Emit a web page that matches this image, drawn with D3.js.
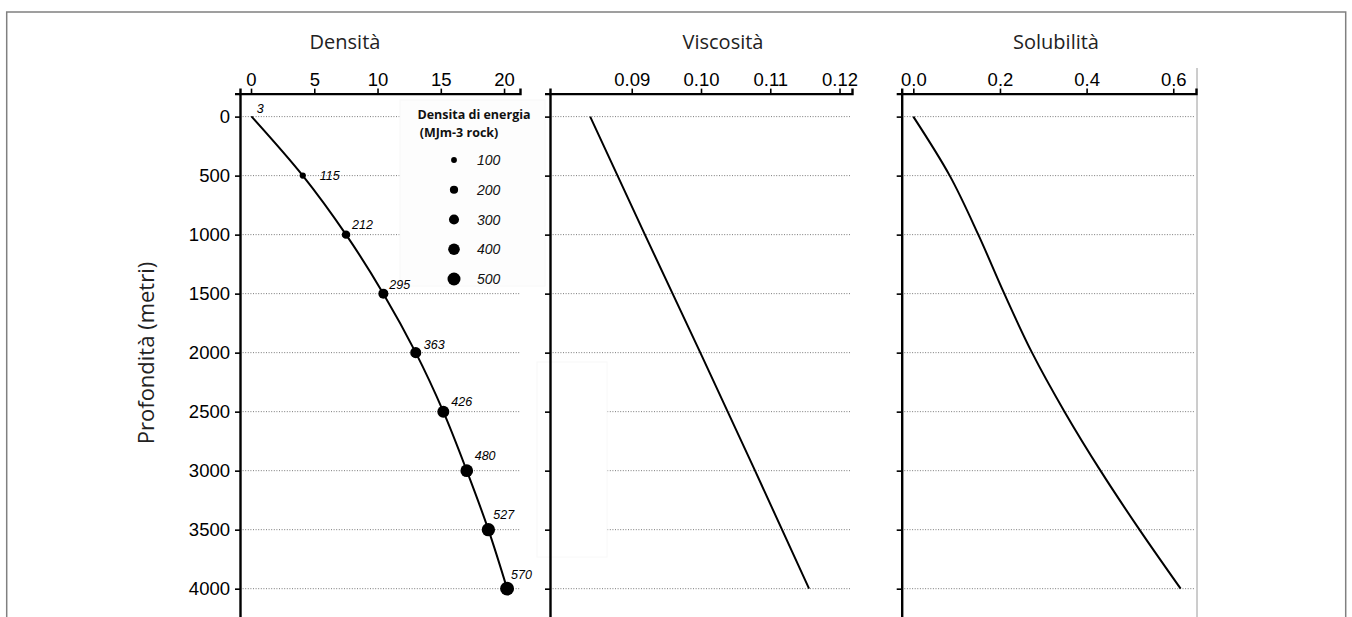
<!DOCTYPE html>
<html><head><meta charset="utf-8">
<script src="https://cdn.jsdelivr.net/npm/d3@7"></script>
<style>
body{margin:0;background:#fff;}
svg{display:block;}
</style></head>
<body>
<svg id="c" width="1352" height="617"></svg>
<script>
// ---- data ----
const depths = [0, 500, 1000, 1500, 2000, 2500, 3000, 3500, 4000];
const densita = [0.05, 4.09, 7.51, 10.46, 13.02, 15.2, 17.05, 18.76, 20.24];
const energia = [3, 115, 212, 295, 363, 426, 480, 527, 570];
const viscDepths = [0, 1000, 2000, 3000, 4000];
const viscosita = [0.0840, 0.0919, 0.0999, 0.1078, 0.1156];
const solubilita = [0.0, 0.084, 0.150, 0.210, 0.274, 0.349, 0.432, 0.522, 0.617];
const legendValues = [100, 200, 300, 400, 500];
const depthTicks = [0, 500, 1000, 1500, 2000, 2500, 3000, 3500, 4000];
const densTicks = [0, 5, 10, 15, 20];
const viscTicks = [0.09, 0.10, 0.11, 0.12];
const solTicks = [0.0, 0.2, 0.4, 0.6];
const titles = ["Densità", "Viscosità", "Solubilità"];

const svg = d3.select("#c");
const tickFont = "'Liberation Sans', Arial, sans-serif";
const titleFont = "'Open Sans', 'Noto Sans', sans-serif";

// frame
svg.append("path").attr("d","M6.7,617 V12 H1345.7 V617")
  .attr("fill","none").attr("stroke","#808080").attr("stroke-width",1.5);
svg.append("line").attr("x1",1197).attr("x2",1197).attr("y1",68).attr("y2",617)
  .attr("stroke","#9a9a9a").attr("stroke-width",1);

const y = d3.scaleLinear().domain([-195, 4440]).range([93.6, 640.6]);

const panels = [
  {x: d3.scaleLinear().domain([-0.87, 21.26]).range([240, 520]), ticks: densTicks, fmt: d3.format("d"), gridEnd: 520, labels: true, title: titles[0], tx: 345},
  {x: d3.scaleLinear().domain([0.0782, 0.1218]).range([550, 852]), ticks: viscTicks, fmt: d3.format(".2f"), gridEnd: 850, labels: false, title: titles[1], tx: 723},
  {x: d3.scaleLinear().domain([-0.0268, 0.6525]).range([901.7, 1196]), ticks: solTicks, fmt: d3.format(".1f"), gridEnd: 1195, labels: false, title: titles[2], tx: 1056}
];

panels.forEach((p, i) => {
  const g = svg.append("g");
  const x0 = p.x.range()[0];
  g.selectAll(".grid").data(depthTicks).join("line")
    .attr("x1", x0).attr("x2", p.gridEnd)
    .attr("y1", d => y(d)).attr("y2", d => y(d))
    .attr("stroke","#7a7a7a").attr("stroke-width",1).attr("stroke-dasharray","1,1.6");
  svg.append("text").attr("x", p.tx).attr("y", 49).attr("text-anchor","middle")
    .style("font-family", titleFont).style("font-size","20px").attr("fill","#222").text(p.title);
});

// legend background patch (covers grid) and stray patch in middle panel
svg.append("rect").attr("x",400).attr("y",100).attr("width",145).attr("height",186)
  .attr("fill","#fdfdfd").attr("stroke","#f8f8f8");
svg.append("rect").attr("x",537).attr("y",362).attr("width",70).attr("height",195)
  .attr("fill","#fff").attr("stroke","#f8f8f8");

panels.forEach((p, i) => {
  const g = svg.append("g");
  const x0 = p.x.range()[0];
  const ax = g.append("g").attr("transform", `translate(0,${y(-195)})`)
    .call(d3.axisTop(p.x).tickValues(p.ticks).tickFormat(p.fmt).tickSizeOuter(0).tickSize(5).tickPadding(2.5));
  const ay = g.append("g").attr("transform", `translate(${x0},0)`)
    .call(d3.axisLeft(y).tickValues(depthTicks).tickFormat(p.labels ? d3.format("d") : () => "").tickSizeOuter(0).tickSize(5).tickPadding(5));
  [ax, ay].forEach(a => {
    a.select(".domain").attr("stroke","#000").attr("stroke-width",2.4);
    a.selectAll(".tick line").attr("stroke","#000").attr("stroke-width",1.6);
    a.selectAll("text").style("font-family", tickFont).style("font-size","18.5px").attr("fill","#000");
  });
});

// y title
svg.append("text").attr("transform","translate(154,353) rotate(-90)").attr("text-anchor","middle")
  .style("font-family", titleFont).style("font-size","22px").attr("fill","#222").text("Profondità (metri)");

// Density curve
const p0 = panels[0], p1 = panels[1], p2 = panels[2];
const r = d3.scaleSqrt().domain([0, 500]).range([0, 6.5]);
svg.append("path").datum(depths.map((d, i) => [p0.x(densita[i]), y(d)]))
  .attr("d", d3.line().curve(d3.curveMonotoneY))
  .attr("fill","none").attr("stroke","#000").attr("stroke-width",2);
svg.selectAll(".pt").data(depths).join("circle")
  .attr("cx", (d, i) => p0.x(densita[i])).attr("cy", d => y(d))
  .attr("r", (d, i) => r(energia[i])).attr("fill","#000");
const labelDx = [5, 17, 6, 6, 8, 8, 8, 5, 4];
const labelDy = [-4, 4, -6, -5, -4, -6, -11, -11, -10];
svg.selectAll(".pl").data(depths).join("text")
  .attr("x", (d, i) => p0.x(densita[i]) + labelDx[i]).attr("y", (d, i) => y(d) + labelDy[i])
  .style("font-family", tickFont).style("font-size","12.5px").style("font-style","italic")
  .attr("fill","#000").text((d, i) => energia[i]);

// Viscosity line
svg.append("path").datum(viscDepths.map((d, i) => [p1.x(viscosita[i]), y(d)]))
  .attr("d", d3.line()).attr("fill","none").attr("stroke","#000").attr("stroke-width",2);
// Solubility curve
svg.append("path").datum(depths.map((d, i) => [p2.x(solubilita[i]), y(d)]))
  .attr("d", d3.line().curve(d3.curveMonotoneY)).attr("fill","none").attr("stroke","#000").attr("stroke-width",2);

// Legend
const lg = svg.append("g");
lg.append("text").attr("x",474).attr("y",119).attr("text-anchor","middle")
  .style("font-family", titleFont).style("font-weight","bold").style("font-size","12.5px").attr("fill","#111").text("Densita di energia");
lg.append("text").attr("x",459).attr("y",137).attr("text-anchor","middle")
  .style("font-family", titleFont).style("font-weight","bold").style("font-size","12.5px").attr("fill","#111").text("(MJm-3 rock)");
const ly = d3.scalePoint().domain(legendValues).range([160, 279]);
lg.selectAll("circle").data(legendValues).join("circle")
  .attr("cx",454).attr("cy", d => ly(d)).attr("r", d => r(d)).attr("fill","#000");
lg.selectAll(".lt").data(legendValues).join("text")
  .attr("x",477).attr("y", d => ly(d) + 5)
  .style("font-family", tickFont).style("font-size","14px").style("font-style","italic").attr("fill","#111").text(d => d);
</script>
</body></html>
